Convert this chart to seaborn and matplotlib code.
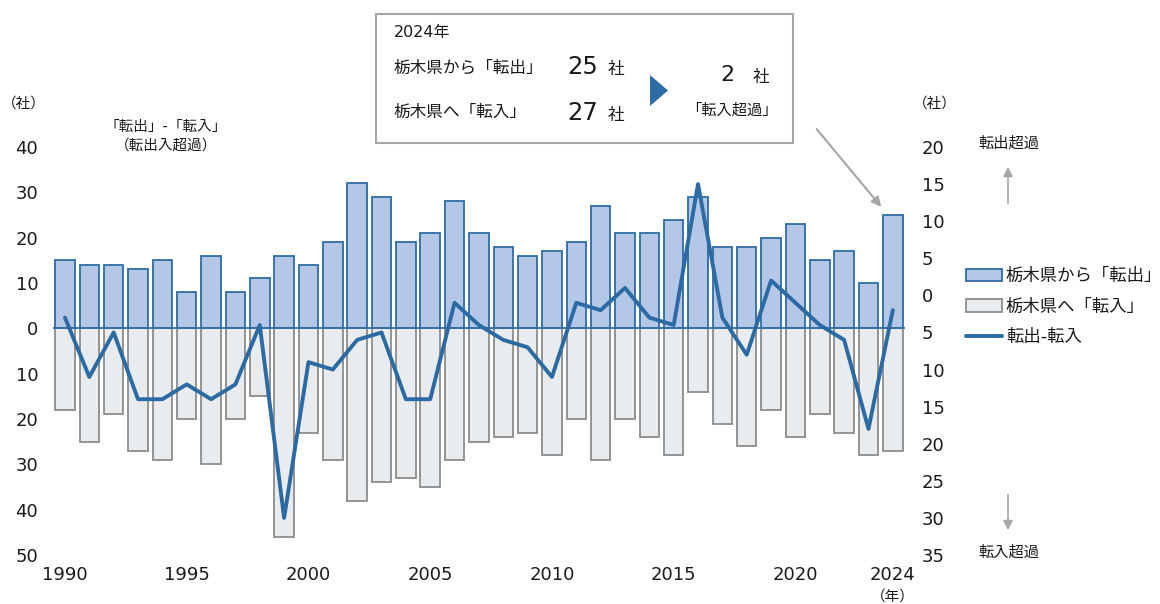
import numpy as np
import pandas as pd
import matplotlib
matplotlib.use("Agg")
import matplotlib.pyplot as plt
import seaborn as sns
from matplotlib.patches import Rectangle, Polygon, Patch, FancyArrowPatch
from matplotlib.lines import Line2D

sns.set_theme(style="white")
plt.rcParams["font.family"] = ["DejaVu Sans", "Noto Sans CJK JP"]
plt.rcParams["text.color"] = "#1a1a1a"
plt.rcParams["xtick.color"] = "#1a1a1a"
plt.rcParams["ytick.color"] = "#1a1a1a"

# Data
years = list(range(1990, 2025))
tenshutsu = [15, 14, 14, 13, 15, 8, 16, 8, 11, 16, 14, 19, 32, 29, 19, 21, 28, 21,
             18, 16, 17, 19, 27, 21, 21, 24, 29, 18, 18, 20, 23, 15, 17, 10, 25]
tennyu = [18, 25, 19, 27, 29, 20, 30, 20, 15, 46, 23, 29, 38, 34, 33, 35, 29, 25,
          24, 23, 28, 20, 29, 20, 24, 28, 14, 21, 26, 18, 24, 19, 23, 28, 27]
sagaku = [-3, -11, -5, -14, -14, -12, -14, -12, -4, -30, -9, -10, -6, -5, -14, -14,
          -1, -4, -6, -7, -11, -1, -2, 1, -3, -4, 15, -3, -8, 2, -1, -4, -6, -18, -2]
xtick_years = [1990, 1995, 2000, 2005, 2010, 2015, 2020, 2024]

BLUE_FILL = "#b4c7e7"
BLUE_EDGE = "#2e6ca4"
GREY_FILL = "#e9ecef"
GREY_EDGE = "#8c8c8c"
LINE = "#2b6aa3"

df = pd.DataFrame({"year": [str(y) for y in years],
                   "out": tenshutsu,
                   "in": [-v for v in tennyu],
                   "diff": sagaku})

W, H = 1160, 604
fig = plt.figure(figsize=(W / 100, H / 100), dpi=100)


def fx(px):
    return px / W


def fy(py):
    return 1 - py / H


ax = fig.add_axes([fx(52.8), fy(555), fx(905) - fx(52.8), fy(147) - fy(555)])

sns.barplot(data=df, x="year", y="out", color=BLUE_FILL, saturation=1,
            edgecolor=BLUE_EDGE, linewidth=1.3, width=0.8, ax=ax)
sns.barplot(data=df, x="year", y="in", color=GREY_FILL, saturation=1,
            edgecolor=GREY_EDGE, linewidth=1.3, width=0.8, ax=ax)
ax.axhline(0, color=BLUE_EDGE, lw=1.3, zorder=3)

ax.set_xlim(-0.5, len(years) - 0.5)
ax.set_ylim(-50, 40)
ax.set_yticks(range(-50, 41, 10))
ax.set_yticklabels([str(abs(v)) for v in range(-50, 41, 10)], fontsize=13)
ax.set_xticks([years.index(y) for y in xtick_years])
ax.set_xticklabels([str(y) for y in xtick_years], fontsize=13)
ax.tick_params(axis="y", length=0, pad=10.5)
ax.tick_params(axis="x", length=0, pad=8)
ax.set_xlabel("")
ax.set_ylabel("")
for s in ax.spines.values():
    s.set_visible(False)

ax2 = ax.twinx()
sns.lineplot(x=np.arange(len(years)), y=df["diff"], color=LINE, lw=2.8, ax=ax2)
ax2.set_ylim(-35, 20)
ax2.set_yticks(range(-35, 21, 5))
ax2.set_yticklabels([str(abs(v)) for v in range(-35, 21, 5)], fontsize=13)
ax2.tick_params(axis="y", length=0, pad=12)
ax2.set_ylabel("")
for s in ax2.spines.values():
    s.set_visible(False)
ax.set_xlim(-0.5, len(years) - 0.5)

# unit labels
fig.text(fx(24), fy(103), "（社）", fontsize=10.5, ha="center", va="center")
fig.text(fx(935), fy(103), "（社）", fontsize=10.5, ha="center", va="center")
fig.text(fx(893), fy(596), "（年）", fontsize=10.5, ha="center", va="center")
fig.text(fx(166), fy(127), "「転出」-「転入」", fontsize=10.5, ha="center", va="center")
fig.text(fx(166), fy(145), "（転出入超過）", fontsize=10.5, ha="center", va="center")

# right side notes
fig.text(fx(1009), fy(143), "転出超過", fontsize=11, ha="center", va="center")
fig.text(fx(1009), fy(552), "転入超過", fontsize=11, ha="center", va="center")
fig.add_artist(FancyArrowPatch((fx(1008), fy(206)), (fx(1008), fy(164)),
                               transform=fig.transFigure, arrowstyle="-|>",
                               mutation_scale=14, color="#a6a6a6", lw=1.2))
fig.add_artist(FancyArrowPatch((fx(1008), fy(492)), (fx(1008), fy(533)),
                               transform=fig.transFigure, arrowstyle="-|>",
                               mutation_scale=14, color="#a6a6a6", lw=1.2))

# legend
handles = [Patch(facecolor=BLUE_FILL, edgecolor=BLUE_EDGE, lw=1.3),
           Patch(facecolor=GREY_FILL, edgecolor=GREY_EDGE, lw=1.3),
           Line2D([], [], color=LINE, lw=2.8)]
labels = ["栃木県から「転出」", "栃木県へ「転入」", "転出-転入"]
fig.legend(handles, labels, loc="upper left", bbox_to_anchor=(fx(966), fy(267)),
           frameon=False, fontsize=12.5, handlelength=2.1, handleheight=0.7,
           handletextpad=0.2, labelspacing=0.72, borderaxespad=0, borderpad=0)

# 2024 box
fig.add_artist(Rectangle((fx(376), fy(143)), fx(793) - fx(376), fy(14) - fy(143),
                         transform=fig.transFigure, facecolor="white",
                         edgecolor="#a6a6a6", lw=1.5, zorder=5))
fig.text(fx(394), fy(33), "2024年", fontsize=11.5, ha="left", va="center", zorder=6)
fig.text(fx(393), fy(68), "栃木県から「転出」", fontsize=12, ha="left", va="center", zorder=6)
fig.text(fx(393), fy(112), "栃木県へ「転入」", fontsize=12, ha="left", va="center", zorder=6)
fig.text(fx(598), fy(67), "25", fontsize=17.5, ha="right", va="center", zorder=6)
fig.text(fx(598), fy(113), "27", fontsize=17.5, ha="right", va="center", zorder=6)
fig.text(fx(616), fy(69), "社", fontsize=12, ha="center", va="center", zorder=6)
fig.text(fx(616), fy(115), "社", fontsize=12, ha="center", va="center", zorder=6)
fig.add_artist(Polygon([(fx(650), fy(75)), (fx(650), fy(106)), (fx(668), fy(90.5))],
                       closed=True, transform=fig.transFigure,
                       facecolor="#2e6ca4", edgecolor="none", zorder=6))
fig.text(fx(727), fy(75), "2", fontsize=16, ha="center", va="center", zorder=6)
fig.text(fx(761), fy(77), "社", fontsize=12, ha="center", va="center", zorder=6)
fig.text(fx(732), fy(110), "「転入超過」", fontsize=11, ha="center", va="center", zorder=6)

fig.add_artist(FancyArrowPatch((fx(815), fy(127)), (fx(883), fy(209)),
                               transform=fig.transFigure, arrowstyle="-|>",
                               mutation_scale=14, color="#a6a6a6", lw=1.5))

fig.savefig("out.png", dpi=100)
